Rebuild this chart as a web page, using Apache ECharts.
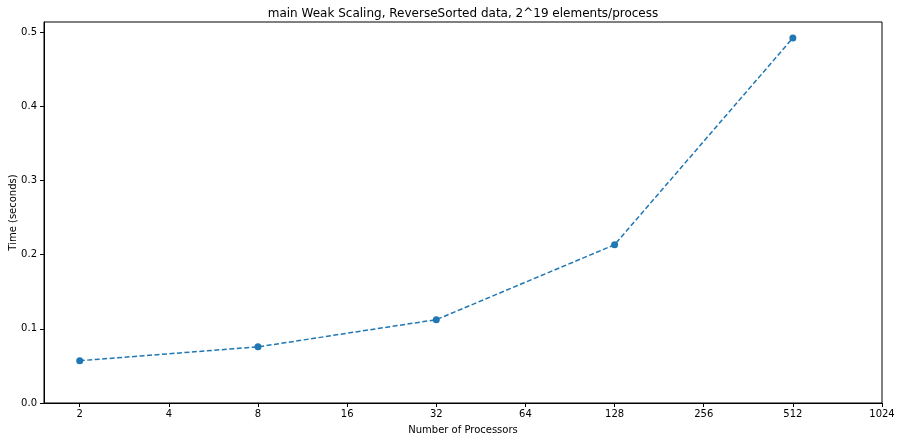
<!DOCTYPE html>
<html>
<head>
<meta charset="utf-8">
<script src="https://cdn.jsdelivr.net/npm/echarts@6/dist/echarts.min.js"></script>
<style>
html, body { margin: 0; padding: 0; background: #fff; }
#chart { width: 900px; height: 441px; }
</style>
</head>
<body>
<div id="chart"></div>
<script>
var processors = [2, 8, 32, 128, 512];
var times = [0.057, 0.0757, 0.1123, 0.2133, 0.492];
var xTicks = [2, 4, 8, 16, 32, 64, 128, 256, 512, 1024];
var yTicks = [0, 0.1, 0.2, 0.3, 0.4, 0.5];

var chart = echarts.init(document.getElementById('chart'));
var font = 'DejaVu Sans';

var points = [];
for (var i = 0; i < processors.length; i++) {
    points.push([processors[i], times[i]]);
}

var option = {
    backgroundColor: '#fff',
    animation: false,
    title: {
        text: 'main Weak Scaling, ReverseSorted data, 2^19 elements/process',
        left: 458,
        top: 3,
        textAlign: 'center',
        textStyle: { fontFamily: font, fontSize: 12, fontWeight: 'normal', color: '#000' }
    },
    grid: { left: 44, right: 18, top: 22, bottom: 38, outerBoundsMode: 'none', containLabel: false },
    xAxis: {
        type: 'log',
        logBase: 2,
        min: 1.515,
        max: 1024,
        name: 'Number of Processors',
        nameLocation: 'middle',
        nameGap: 22,
        nameTextStyle: { fontFamily: font, fontSize: 10, color: '#000' },
        axisLine: { show: true, lineStyle: { color: '#000', width: 1 } },
        axisTick: { show: true, length: 4, customValues: xTicks, lineStyle: { color: '#000' } },
        axisLabel: {
            customValues: xTicks,
            fontFamily: font, fontSize: 10, color: '#000', margin: 6,
            formatter: function (v) { return String(Math.round(v)); }
        },
        splitLine: { show: false }
    },
    yAxis: {
        type: 'value',
        min: 0,
        max: 0.5135,
        interval: 0.1,
        name: 'Time (seconds)',
        nameLocation: 'middle',
        nameGap: 26,
        nameMoveOverlap: false,
        nameTextStyle: { fontFamily: font, fontSize: 10, color: '#000' },
        axisLine: { show: true, lineStyle: { color: '#000', width: 1 } },
        axisTick: { show: true, length: 4, customValues: yTicks, lineStyle: { color: '#000' } },
        axisLabel: {
            customValues: yTicks,
            fontFamily: font, fontSize: 10, color: '#000', margin: 7,
            formatter: function (v) { return v.toFixed(1); }
        },
        splitLine: { show: false }
    },
    series: [{
        type: 'line',
        data: points,
        symbol: 'circle',
        symbolSize: 7,
        itemStyle: { color: '#1f77b4' },
        lineStyle: { color: '#1f77b4', width: 1.5, type: [5, 2.5] }
    }],
    graphic: [{
        type: 'rect',
        shape: { x: 44, y: 22, width: 838, height: 381 },
        style: { fill: 'none', stroke: '#000', lineWidth: 1 },
        silent: true,
        z: 100
    }]
};
chart.setOption(option);
</script>
</body>
</html>
